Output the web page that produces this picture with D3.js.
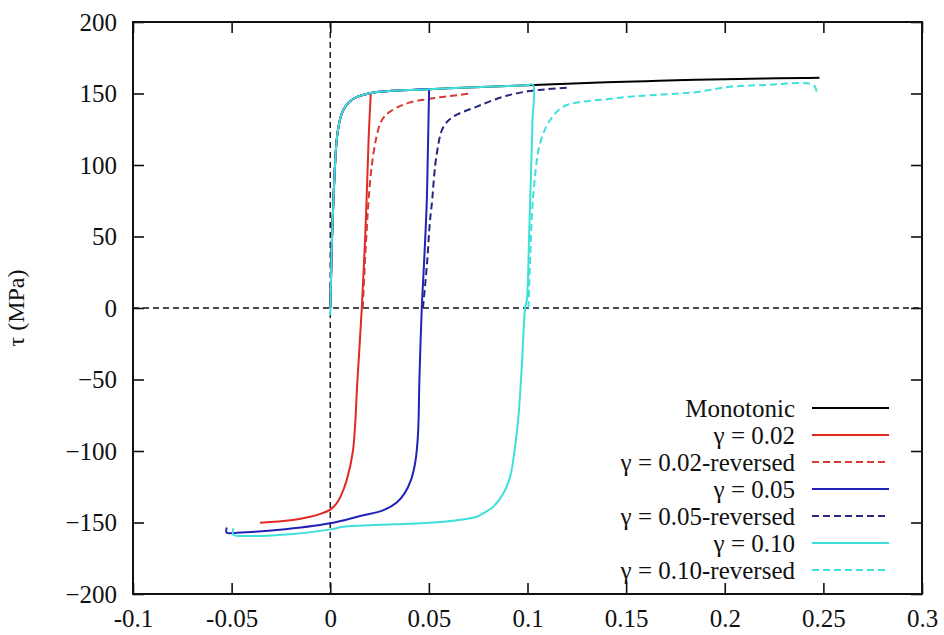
<!DOCTYPE html>
<html>
<head>
<meta charset="utf-8">
<script src="https://cdn.jsdelivr.net/npm/d3@7"></script>
<style>
  body { margin: 0; background: #fff; }
  svg { display: block; }
  svg text { font-family: "Liberation Serif", "Times New Roman", Tinos, Times, "DejaVu Serif", serif !important; fill: #111; }
</style>
</head>
<body>
<svg id="chart" width="944" height="635"></svg>
<script>
// ticks
var xTicks = [-0.1, -0.05, 0, 0.05, 0.1, 0.15, 0.2, 0.25, 0.3];
var xTickLabels = ["-0.1", "-0.05", "0", "0.05", "0.1", "0.15", "0.2", "0.25", "0.3"];
var yTicks = [200, 150, 100, 50, 0, -50, -100, -150, -200];

// courbes (gamma, tau)
var monotonic = [[0,0],[0.0003,15],[0.0008,45],[0.0016,75],[0.0025,102],[0.0033,118],[0.0045,129],[0.0058,136],
  [0.0075,140.5],[0.0092,143.5],[0.012,146.5],[0.015,148.3],[0.02,150.2],[0.025,151.2],[0.03,151.8],[0.04,152.4],
  [0.05,153],[0.06,153.6],[0.07,154.2],[0.08,154.7],[0.09,155.2],[0.1,155.8],[0.12,156.8],[0.14,157.8],
  [0.16,158.6],[0.18,159.4],[0.2,160],[0.22,160.5],[0.24,160.8],[0.248,161]];

var g002 = [[0,0],[0.0003,15],[0.0008,45],[0.0016,75],[0.0025,102],[0.0033,118],[0.0045,129],[0.0058,136],
  [0.0075,140.5],[0.0092,143.5],[0.012,146.5],[0.015,148.3],[0.0205,150],
  [0.0205,149],[0.0195,120],[0.018,60],[0.016,0],[0.0138,-50],[0.0115,-100],[0.0084,-120],[0.0055,-131],
  [0.003,-137],[0,-141],[-0.005,-144],[-0.0102,-146],[-0.02,-148.5],[-0.0356,-150.2]];

var g002rev = [[0.0165,0],[0.0175,30],[0.0185,55],[0.0193,73],[0.0205,93],[0.0219,108],[0.0235,120],[0.0253,129],
  [0.0275,134],[0.0303,137.3],[0.035,141],[0.0405,143.8],[0.049,146],[0.058,147.8],[0.0658,149],[0.07,149.8]];

var g005 = [[0,0],[0.0003,15],[0.0008,45],[0.0016,75],[0.0025,102],[0.0033,118],[0.0045,129],[0.0058,136],
  [0.0075,140.5],[0.0092,143.5],[0.012,146.5],[0.015,148.3],[0.02,150.2],[0.025,151.2],[0.03,151.8],[0.04,152.4],
  [0.0501,153],[0.0501,152.4],[0.0495,110],[0.0489,73],[0.0475,30],[0.0464,0],[0.0452,-50],[0.0445,-88],
  [0.0432,-107],[0.041,-120],[0.0375,-130],[0.0337,-136],[0.027,-141.3],[0.0151,-145.5],[0,-150.6],[-0.0271,-155.3],
  [-0.0474,-157.1],[-0.0525,-157.2],[-0.0525,-153.5]];

var g005rev = [[0.047,0],[0.049,30],[0.0505,60],[0.0515,73],[0.054,108],[0.0574,126.8],[0.0624,133.8],
  [0.0743,140.8],[0.0878,147.8],[0.1,151.5],[0.11,153],[0.1206,154]];

var g010 = [[0,-5],[0.0003,15],[0.0008,45],[0.0016,75],[0.0025,102],[0.0033,118],[0.0045,129],[0.0058,136],
  [0.0075,140.5],[0.0092,143.5],[0.012,146.5],[0.015,148.3],[0.02,150.2],[0.025,151.2],[0.03,151.8],[0.04,152.4],
  [0.05,153],[0.06,153.6],[0.07,154.2],[0.08,154.7],[0.09,155.2],[0.1,155.9],[0.1027,156.3],
  [0.1025,130],[0.1019,100],[0.1008,50],[0.0997,6],[0.0988,0],[0.0971,-41],[0.0954,-76],[0.0937,-97],
  [0.0912,-118],[0.0878,-129.6],[0.0827,-138.9],[0.076,-144.8],[0.0743,-146],[0.0574,-149.5],[0.032,-151.3],
  [0.0067,-153],[0,-154.8],[-0.0187,-158],[-0.044,-159.4],[-0.0491,-158.7],[-0.0491,-154]];

var g010rev = [[0.1005,0],[0.1015,40],[0.103,80.2],[0.1064,115.2],[0.1115,131.5],[0.1182,140.8],[0.1284,144.3],
  [0.14,146],[0.152,147.8],[0.165,149],[0.1774,150.1],[0.186,151],[0.193,152.6],[0.2,154.3],[0.21,155.4],
  [0.22,155.9],[0.245,155.9],[0.2467,150.1]];

var seriesData = [monotonic, g002, g002rev, g005, g005rev, g010, g010rev];
var seriesNames = ["Monotonic", "\u03b3 = 0.02", "\u03b3 = 0.02-reversed", "\u03b3 = 0.05",
  "\u03b3 = 0.05-reversed", "\u03b3 = 0.10", "\u03b3 = 0.10-reversed"];
var seriesColors = ["#000000", "#e02a24", "#d63a36", "#2222b8", "#27277c", "#3fe0dc", "#3fe0dc"];
var seriesDash = [null, null, "7,4", null, "7,4", null, "7,4"];

var svg = d3.select("#chart");
var margin = {top: 22, right: 22, bottom: 41, left: 133},
    width = 944 - margin.left - margin.right,
    height = 635 - margin.top - margin.bottom,
    g = svg.append("g").attr("transform", "translate(" + margin.left + "," + margin.top + ")");

var x = d3.scaleLinear().domain([-0.1, 0.3]).range([0, width]);
var y = d3.scaleLinear().domain([-200, 200]).range([height, 0]);

// axes (ticks vers l'intérieur, recopiés en haut et à droite)
var tl = 11;
g.append("g")
    .attr("class", "axis axis--x")
    .attr("transform", "translate(0," + height + ")")
    .call(d3.axisBottom(x).tickValues(xTicks).tickSize(-tl).tickPadding(22)
      .tickFormat(function(d, i) { return xTickLabels[i]; }));
g.append("g")
    .attr("class", "axis axis--x2")
    .call(d3.axisTop(x).tickValues(xTicks).tickSize(-tl).tickFormat(""));
g.append("g")
    .attr("class", "axis axis--y")
    .call(d3.axisLeft(y).tickValues(yTicks).tickSize(-tl).tickPadding(16).tickFormat(d3.format("d")));
g.append("g")
    .attr("class", "axis axis--y2")
    .attr("transform", "translate(" + width + ",0)")
    .call(d3.axisRight(y).tickValues(yTicks).tickSize(-tl).tickFormat(""));

g.selectAll(".axis").attr("font-family", null);
g.selectAll(".axis .domain").remove();
g.selectAll(".axis line").attr("stroke", "#111").attr("stroke-width", 1.6);
g.selectAll(".axis text")
    .style("font-size", "25px")
    .attr("fill", "#111");
g.select(".axis--x").selectAll("text").attr("dy", "0.71em").attr("y", 15);

// zéros
g.append("line")
    .attr("x1", 0).attr("x2", width)
    .attr("y1", y(0)).attr("y2", y(0))
    .attr("stroke", "#111").attr("stroke-width", 1.4).attr("stroke-dasharray", "6,4");
g.append("line")
    .attr("x1", x(0)).attr("x2", x(0))
    .attr("y1", 0).attr("y2", height)
    .attr("stroke", "#111").attr("stroke-width", 1.4).attr("stroke-dasharray", "6,4");

// courbes
var line = d3.line()
    .x(function(d) { return x(d[0]); })
    .y(function(d) { return y(d[1]); })
    .curve(d3.curveCatmullRom.alpha(0.5));

g.selectAll(".serie")
    .data(seriesData)
    .enter().append("path")
    .attr("class", "serie")
    .attr("fill", "none")
    .attr("stroke", function(d, i) { return seriesColors[i]; })
    .attr("stroke-width", 2)
    .attr("stroke-dasharray", function(d, i) { return seriesDash[i]; })
    .attr("d", line);

// cadre
g.append("rect")
    .attr("width", width).attr("height", height)
    .attr("fill", "none").attr("stroke", "#111").attr("stroke-width", 2);

// légende
var legend = g.append("g").attr("class", "legend");
var item = legend.selectAll(".item")
    .data(seriesNames)
    .enter().append("g")
    .attr("class", "item")
    .attr("transform", function(d, i) { return "translate(0," + (386 + i * 27) + ")"; });
item.append("text")
    .attr("x", 662)
    .attr("dy", "0.35em")
    .attr("text-anchor", "end")
    .style("font-size", "25px")
    .text(function(d) { return d; });
item.append("line")
    .attr("x1", 679).attr("x2", 756)
    .attr("stroke", function(d, i) { return seriesColors[i]; })
    .attr("stroke-width", 2)
    .attr("stroke-dasharray", function(d, i) { return seriesDash[i]; });

// titre axe y
svg.append("text")
    .attr("transform", "translate(24,308) rotate(-90)")
    .attr("text-anchor", "middle")
    .style("font-size", "24px")
    .text("\u03c4 (MPa)");
</script>
</body>
</html>
